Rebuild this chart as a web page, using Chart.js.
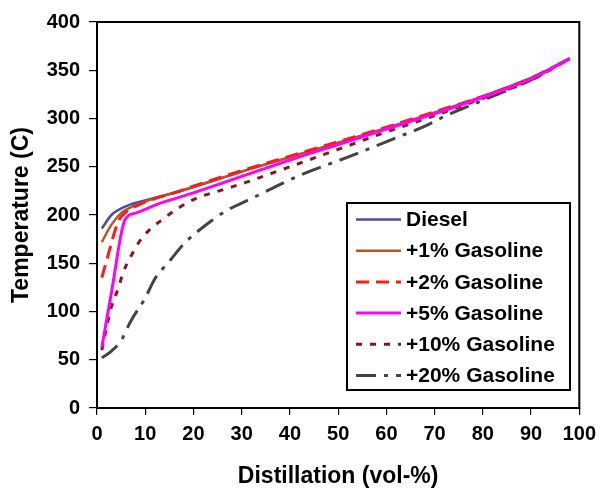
<!DOCTYPE html>
<html>
<head>
<meta charset="utf-8">
<script src="https://cdn.jsdelivr.net/npm/chart.js@4.4.1/dist/chart.umd.min.js"></script>
<style>
  html, body { margin: 0; padding: 0; background: #fff; }
  #wrap { width: 603px; height: 490px; position: relative; }
</style>
</head>
<body>
<div id="wrap"><canvas id="c" width="603" height="490"></canvas></div>
<script>
// ---- data ----
const xTicks = [0, 10, 20, 30, 40, 50, 60, 70, 80, 90, 100];
const yTicks = [0, 50, 100, 150, 200, 250, 300, 350, 400];

const seriesNames = ['Diesel', '+1% Gasoline', '+2% Gasoline', '+5% Gasoline', '+10% Gasoline', '+20% Gasoline'];

const dieselX = [1, 3, 6.5, 10, 16, 20, 30, 40, 50, 60, 70, 80, 90, 98];
const dieselY = [186, 200, 210, 215, 223, 229, 245, 260, 275, 290, 306, 323, 342, 362];

const gas1X = [1, 3, 5, 7, 10, 16, 20, 30, 40, 50, 60, 70, 80, 90, 98];
const gas1Y = [172, 190, 202, 208, 214, 223, 229, 245, 260, 275, 290, 306, 323, 342, 362];

const gas2X = [1, 2, 4.4, 6, 8, 12, 16, 20, 30, 40, 50, 60, 70, 80, 90, 98];
const gas2Y = [135, 153, 193, 203, 209, 217, 223, 230, 246, 261, 276, 291, 307, 323, 342, 362];

const gas5X = [1, 3, 5.8, 8, 13, 20, 30, 40, 50, 60, 70, 80, 90, 98];
const gas5Y = [63, 120, 195, 202, 212, 223, 240, 257, 273, 289, 305, 322, 341, 362];

const gas10X = [1, 2, 3, 4.4, 5.4, 7, 9.3, 14, 20, 26, 31, 40, 50, 60, 70, 80, 90, 98];
const gas10Y = [60, 84, 105, 124, 140, 157, 176, 197, 216, 226, 234, 250, 268, 286, 303, 321, 340, 362];

const gas20X = [1, 3, 5, 7, 10, 12, 15, 18, 24, 27, 32, 42, 52, 62, 68, 72, 82, 90, 98];
const gas20Y = [52, 59, 70, 90, 114, 134, 152, 170, 195, 205, 217, 241, 260, 280, 292, 302, 323, 340, 362];

// ---- styling ----
const FONT = "'Liberation Sans', Arial, sans-serif";
const toPts = (xs, ys) => xs.map((x, i) => ({ x: x, y: ys[i] }));

const styles = [
  { color: '#4b4bab', dash: [], width: 2.5, order: 5 },
  { color: '#c0531f', dash: [], width: 2.5, order: 4 },
  { color: '#ff1a1a', dash: [13, 7], width: 3, order: 2 },
  { color: '#ff00ff', dash: [], width: 3, order: 1 },
  { color: '#8b1414', dash: [6, 8], width: 3, order: 3 },
  { color: '#444444', dash: [20, 8, 4, 8], width: 3, order: 6 }
];
const seriesData = [
  toPts(dieselX, dieselY),
  toPts(gas1X, gas1Y),
  toPts(gas2X, gas2Y),
  toPts(gas5X, gas5Y),
  toPts(gas10X, gas10Y),
  toPts(gas20X, gas20Y)
];

const datasets = seriesNames.map((name, i) => ({
  label: name,
  data: seriesData[i],
  borderColor: styles[i].color,
  backgroundColor: styles[i].color,
  borderWidth: styles[i].width,
  borderDash: styles[i].dash,
  pointRadius: 0,
  fill: false,
  cubicInterpolationMode: 'monotone',
  order: styles[i].order
}));

const framePlugin = {
  id: 'frame',
  afterDraw(chart) {
    const { ctx, chartArea: a } = chart;
    ctx.save();
    ctx.strokeStyle = '#000';
    ctx.lineWidth = 2;
    ctx.strokeRect(a.left, a.top, a.right - a.left, a.bottom - a.top);

    // legend box
    const L = 347, T = 203, R = 570, B = 390;
    ctx.fillStyle = '#fff';
    ctx.fillRect(L, T, R - L, B - T);
    ctx.strokeRect(L, T, R - L, B - T);
    ctx.font = "bold 21px " + FONT;
    ctx.textBaseline = 'middle';
    ctx.textAlign = 'left';
    seriesNames.forEach((name, i) => {
      const y = 219.5 + i * 31.2;
      ctx.beginPath();
      ctx.strokeStyle = styles[i].color;
      ctx.lineWidth = styles[i].width;
      ctx.setLineDash(styles[i].dash);
      ctx.moveTo(356, y);
      ctx.lineTo(401, y);
      ctx.stroke();
      ctx.setLineDash([]);
      ctx.fillStyle = '#000';
      ctx.fillText(name, 406, y + 1);
    });
    ctx.restore();
  }
};

new Chart(document.getElementById('c'), {
  type: 'line',
  data: { datasets: datasets },
  options: {
    responsive: false,
    animation: false,
    layout: { padding: { top: 22, right: 23, left: 0, bottom: 0 } },
    plugins: { legend: { display: false }, tooltip: { enabled: false } },
    scales: {
      x: {
        type: 'linear',
        min: 0, max: 100,
        afterBuildTicks(scale) { scale.ticks = xTicks.map(v => ({ value: v })); },
        afterFit(scale) { scale.height = 82; },
        border: { display: true, color: '#000', width: 2 },
        grid: { display: true, drawOnChartArea: false, drawTicks: true, tickLength: 7, color: '#000', lineWidth: 1.2 },
        ticks: { color: '#000', font: { family: FONT, size: 20, weight: 'bold' }, padding: 7, maxRotation: 0, autoSkip: false },
        title: { display: true, text: 'Distillation (vol-%)', color: '#000', font: { family: FONT, size: 23, weight: 'bold' }, padding: { top: 0, bottom: 0 } }
      },
      y: {
        type: 'linear',
        min: 0, max: 400,
        afterBuildTicks(scale) { scale.ticks = yTicks.map(v => ({ value: v })); },
        afterFit(scale) { scale.width = 97; },
        border: { display: true, color: '#000', width: 2 },
        grid: { display: true, drawOnChartArea: false, drawTicks: true, tickLength: 8, color: '#000', lineWidth: 1.2 },
        ticks: { color: '#000', font: { family: FONT, size: 20, weight: 'bold' }, padding: 9, autoSkip: false },
        title: { display: true, text: 'Temperature (C)', color: '#000', font: { family: FONT, size: 23, weight: 'bold' }, padding: { top: 8, bottom: 0 } }
      }
    }
  },
  plugins: [framePlugin]
});
</script>
</body>
</html>
